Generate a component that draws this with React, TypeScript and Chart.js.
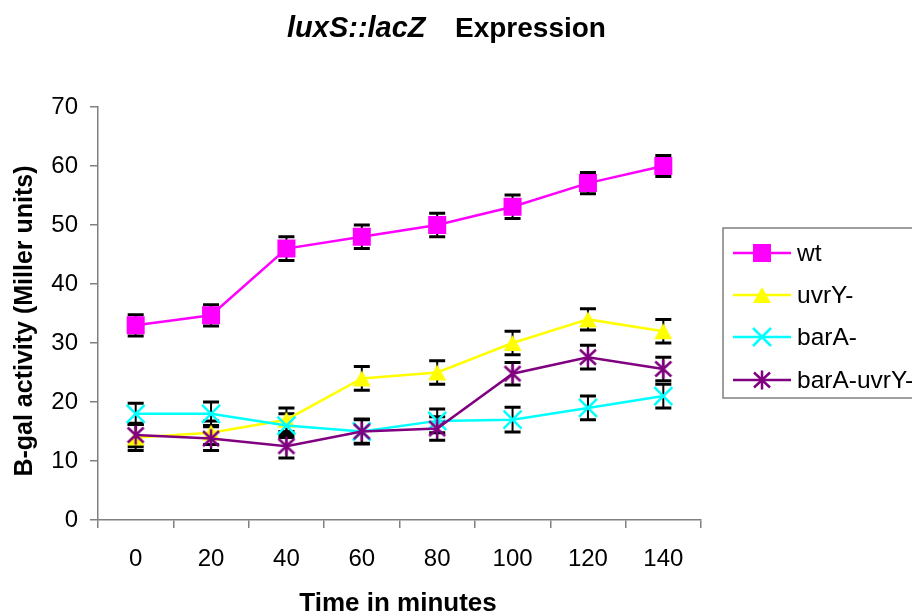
import React, { useEffect, useRef } from "react";
import { Chart, registerables } from "chart.js";

Chart.register(...registerables);

// ---------- data ----------
const categories = ["0", "20", "40", "60", "80", "100", "120", "140"];

const wtValues = [33, 34.7, 46, 48, 50, 53.1, 57.1, 60];
const wtErrors = [1.8, 1.8, 2, 2, 2, 2, 1.8, 1.8];

const uvrYValues = [14, 14.8, 17, 24, 25, 30, 34, 32];
const uvrYErrors = [2.2, 2, 2, 2, 2, 2, 1.8, 2];

const barAValues = [18, 18, 16, 15, 16.8, 17, 19, 21];
const barAErrors = [1.8, 2, 2, 2, 2, 2.1, 2, 2];

const barAuvrYValues = [14.4, 13.8, 12.5, 15, 15.5, 24.8, 27.6, 25.6];
const barAuvrYErrors = [2, 2, 2, 2.1, 2, 1.9, 2, 2];

const seriesNames = ["wt", "uvrY-", "barA-", "barA-uvrY-"];
const seriesColors = ["#FF00FF", "#FFFF00", "#00FFFF", "#800080"];

const yMin = 0;
const yMax = 70;
const yStep = 10;

const FONT = "'Liberation Sans', Arial, Helvetica, sans-serif";

function makeTriangle(color: string): HTMLCanvasElement {
  const c = document.createElement("canvas");
  c.width = 22;
  c.height = 22;
  const g = c.getContext("2d")!;
  g.fillStyle = color;
  g.beginPath();
  g.moveTo(11, 3);
  g.lineTo(20, 19);
  g.lineTo(2, 19);
  g.closePath();
  g.fill();
  return c;
}

function makeAsterisk(color: string): HTMLCanvasElement {
  const c = document.createElement("canvas");
  c.width = 24;
  c.height = 24;
  const g = c.getContext("2d")!;
  g.strokeStyle = color;
  g.lineWidth = 2.5;
  g.beginPath();
  g.moveTo(12, 2.5);
  g.lineTo(12, 21.5);
  g.moveTo(4, 4.5);
  g.lineTo(20, 19.5);
  g.moveTo(20, 4.5);
  g.lineTo(4, 19.5);
  g.stroke();
  return c;
}

export default function App() {
  const canvasRef = useRef<HTMLCanvasElement | null>(null);

  useEffect(() => {
    const canvas = canvasRef.current;
    if (!canvas) return;

    const triangle = makeTriangle(seriesColors[1]);
    const asterisk = makeAsterisk(seriesColors[3]);
    const errorsList = [wtErrors, uvrYErrors, barAErrors, barAuvrYErrors];
    const valuesList = [wtValues, uvrYValues, barAValues, barAuvrYValues];

    const drawMarker = (ctx: CanvasRenderingContext2D, i: number, x: number, y: number) => {
      ctx.save();
      if (i === 0) {
        ctx.fillStyle = seriesColors[0];
        ctx.fillRect(x - 9, y - 9, 18, 18);
      } else if (i === 1) {
        ctx.drawImage(triangle, x - 11, y - 11);
      } else if (i === 2) {
        ctx.strokeStyle = seriesColors[2];
        ctx.lineWidth = 2.5;
        ctx.beginPath();
        ctx.moveTo(x - 9, y - 9);
        ctx.lineTo(x + 9, y + 9);
        ctx.moveTo(x + 9, y - 9);
        ctx.lineTo(x - 9, y + 9);
        ctx.stroke();
      } else {
        ctx.drawImage(asterisk, x - 12, y - 12);
      }
      ctx.restore();
    };

    const errorBars = {
      id: "errorBars",
      beforeDatasetsDraw(chart: any) {
        const ctx = chart.ctx as CanvasRenderingContext2D;
        const yScale = chart.scales.y;
        ctx.save();
        ctx.strokeStyle = "#000000";
        for (let d = 0; d < valuesList.length; d++) {
          const meta = chart.getDatasetMeta(d);
          valuesList[d].forEach((v, j) => {
            const e = errorsList[d][j];
            const x = meta.data[j].x;
            const yt = yScale.getPixelForValue(v + e);
            const yb = yScale.getPixelForValue(v - e);
            ctx.lineWidth = 2;
            ctx.beginPath();
            ctx.moveTo(x, yt);
            ctx.lineTo(x, yb);
            ctx.stroke();
            ctx.lineWidth = 3;
            ctx.beginPath();
            ctx.moveTo(x - 8, yt);
            ctx.lineTo(x + 8, yt);
            ctx.moveTo(x - 8, yb);
            ctx.lineTo(x + 8, yb);
            ctx.stroke();
          });
        }
        ctx.restore();
      },
    };

    const texts = {
      id: "texts",
      afterDraw(chart: any) {
        const ctx = chart.ctx as CanvasRenderingContext2D;
        ctx.save();
        ctx.fillStyle = "#000000";
        // title
        ctx.textBaseline = "alphabetic";
        ctx.textAlign = "left";
        ctx.font = `italic bold 29px ${FONT}`;
        ctx.fillText("luxS::lacZ", 287, 37);
        ctx.font = `bold 28px ${FONT}`;
        ctx.fillText("Expression", 455, 37);
        // x axis title
        ctx.textAlign = "center";
        ctx.textBaseline = "middle";
        ctx.font = `bold 26px ${FONT}`;
        ctx.fillText("Time in minutes", 398, 604);
        // y axis title
        ctx.save();
        ctx.translate(25, 321);
        ctx.rotate(-Math.PI / 2);
        ctx.font = `bold 25px ${FONT}`;
        ctx.fillText("B-gal activity (Miller units)", 0, 0);
        ctx.restore();
        // legend
        ctx.fillStyle = "#FFFFFF";
        ctx.fillRect(723, 228, 200, 170);
        ctx.strokeStyle = "#808080";
        ctx.lineWidth = 1.5;
        ctx.strokeRect(723, 228, 200, 170);
        const rowY = [253, 295, 337, 380];
        ctx.font = `24.5px ${FONT}`;
        ctx.textAlign = "left";
        ctx.textBaseline = "middle";
        for (let i = 0; i < seriesNames.length; i++) {
          const y = rowY[i];
          ctx.strokeStyle = seriesColors[i];
          ctx.lineWidth = 2.5;
          ctx.beginPath();
          ctx.moveTo(733, y);
          ctx.lineTo(791, y);
          ctx.stroke();
          drawMarker(ctx, i, 762, y);
          ctx.fillStyle = "#000000";
          ctx.fillText(seriesNames[i], 797, y + 1);
        }
        ctx.restore();
      },
    };

    const chart = new Chart(canvas, {
      type: "line",
      data: {
        labels: categories,
        datasets: [
          {
            label: seriesNames[0],
            data: wtValues,
            borderColor: seriesColors[0],
            backgroundColor: seriesColors[0],
            borderWidth: 2.5,
            pointStyle: "rect",
            pointRadius: 12.73,
            pointBorderWidth: 0,
            pointBackgroundColor: seriesColors[0],
            order: 3,
          },
          {
            label: seriesNames[1],
            data: uvrYValues,
            borderColor: seriesColors[1],
            backgroundColor: seriesColors[1],
            borderWidth: 2.5,
            pointStyle: triangle,
            pointRadius: 11,
            order: 2,
          },
          {
            label: seriesNames[2],
            data: barAValues,
            borderColor: seriesColors[2],
            backgroundColor: seriesColors[2],
            borderWidth: 2.5,
            pointStyle: "crossRot",
            pointRadius: 12.73,
            pointBorderWidth: 2.5,
            pointBorderColor: seriesColors[2],
            order: 1,
          },
          {
            label: seriesNames[3],
            data: barAuvrYValues,
            borderColor: seriesColors[3],
            backgroundColor: seriesColors[3],
            borderWidth: 2.5,
            pointStyle: asterisk,
            pointRadius: 12,
            order: 0,
          },
        ],
      },
      options: {
        responsive: false,
        animation: false,
        events: [],
        layout: { padding: { top: 107, right: 211, left: 0, bottom: 0 } },
        plugins: {
          legend: { display: false },
          title: { display: false },
          tooltip: { enabled: false },
        },
        scales: {
          x: {
            type: "category",
            offset: true,
            grid: {
              offset: true,
              drawOnChartArea: false,
              drawTicks: true,
              tickLength: 8,
              color: "#808080",
              lineWidth: 1.5,
            },
            border: { color: "#808080", width: 1.5 },
            ticks: {
              color: "#000000",
              font: { family: FONT, size: 24 },
              padding: 17,
              maxRotation: 0,
            },
            afterFit(scale: any) {
              scale.height = 96;
            },
          },
          y: {
            min: yMin,
            max: yMax,
            grid: {
              drawOnChartArea: false,
              drawTicks: true,
              tickLength: 8,
              color: "#808080",
              lineWidth: 1.5,
            },
            border: { color: "#808080", width: 1.5 },
            ticks: {
              stepSize: yStep,
              color: "#000000",
              font: { family: FONT, size: 24 },
              padding: 12,
            },
            afterFit(scale: any) {
              scale.width = 98;
            },
          },
        },
      },
      plugins: [errorBars, texts],
    });

    return () => chart.destroy();
  }, []);

  return (
    <div style={{ position: "fixed", left: 0, top: 0, width: 912, height: 616, background: "#fff" }}>
      <canvas ref={canvasRef} width={912} height={616} />
    </div>
  );
}
